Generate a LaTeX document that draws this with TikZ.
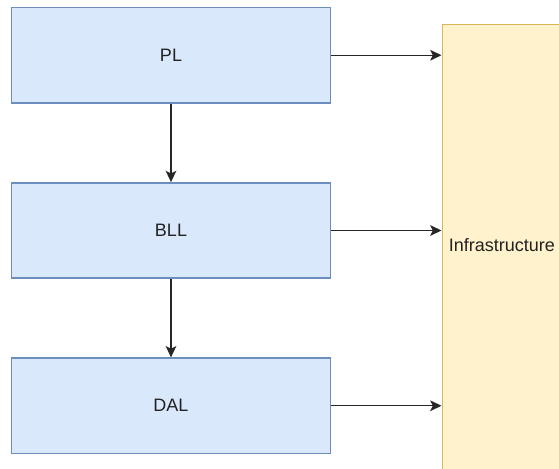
\documentclass[tikz,border=0pt]{standalone}
\usepackage{fontspec}
\setmainfont{Liberation Sans}
\usetikzlibrary{arrows.meta}
\definecolor{bfill}{HTML}{DAE8FC}
\definecolor{bline}{HTML}{6C8EBF}
\definecolor{yfill}{HTML}{FFF2CC}
\definecolor{yline}{HTML}{D6B656}
\definecolor{txt}{HTML}{222222}
\tikzset{
  layer/.style={draw=bline, fill=bfill, line width=1.1pt, minimum width=239.25pt, minimum height=71.5pt, inner sep=0pt, font=\fontsize{13.5pt}{16pt}\selectfont, text=txt},
  conn/.style={line width=1.1pt, -{Stealth[length=8.5pt,width=8pt,inset=2pt]}, draw=black!85}
}
\begin{document}
\begin{tikzpicture}[x=0.75pt,y=-0.75pt]
\useasboundingbox (0,0) rectangle (559,468);
\clip (0,0) rectangle (559,468);
\node[layer] (pl) at (171,55.25) {PL};
\node[layer] (bll) at (171,230.5) {BLL};
\node[layer] (dal) at (171,405.75) {DAL};
\node[draw=yline, fill=yfill, line width=1.1pt, anchor=north west, minimum width=150pt, minimum height=360pt, inner sep=0pt] (infra) at (441.5,23.5) {};
\node[anchor=west, inner sep=0pt, font=\fontsize{13.5pt}{16pt}\selectfont, text=txt] (infratext) at (448.5,245) {Infrastructure};
\draw[conn] (pl.south) -- (bll.north);
\draw[conn] (bll.south) -- (dal.north);
\draw[conn] (pl.east) -- (pl.east -| infra.west);
\draw[conn] (bll.east) -- (bll.east -| infra.west);
\draw[conn] (dal.east) -- (dal.east -| infra.west);
\end{tikzpicture}
\end{document}
